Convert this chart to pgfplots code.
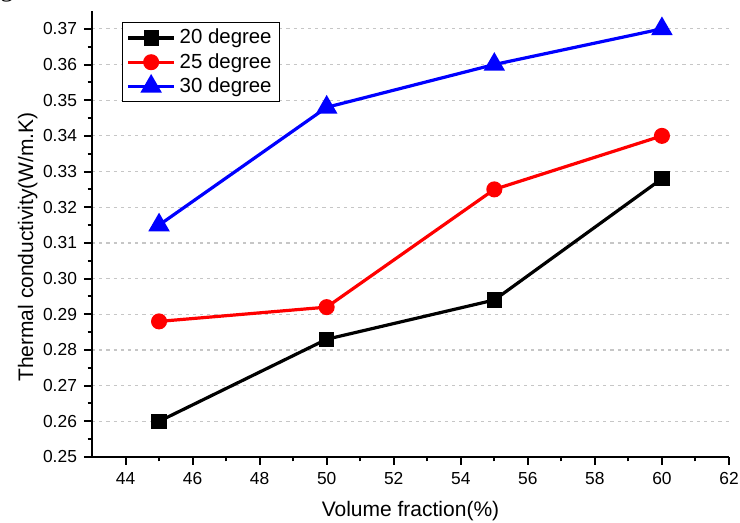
\documentclass[border=0pt]{standalone}
\usepackage{pgfplots}
\pgfplotsset{compat=1.18}
\usepackage{fontspec}
\setmainfont{Liberation Sans}
\newfontfamily\capfont{Liberation Serif}

\begin{document}
\begin{tikzpicture}
\begin{axis}[
    at={(0,0)}, anchor=south west,
    scale only axis,
    width=318.5pt, height=223pt,
    xmin=43, xmax=62,
    ymin=0.25, ymax=0.375,
    axis x line*=bottom,
    axis y line*=left,
    axis line style={line width=1.4pt},
    xtick={44,46,48,50,52,54,56,58,60,62},
    ytick={0.25,0.26,0.27,0.28,0.29,0.30,0.31,0.32,0.33,0.34,0.35,0.36,0.37},
    minor x tick num=1,
    minor y tick num=1,
    tick align=outside,
    major tick length=4pt,
    minor tick length=2.2pt,
    tick style={black, line width=1pt},
    ticklabel style={font=\fontsize{8.7}{10}\selectfont, /pgf/number format/assume math mode=true},
    y tick label style={/pgf/number format/.cd, fixed, fixed zerofill, precision=2},
    ymajorgrids,
    grid style={gray!45, line width=0.6pt, dash pattern=on 1.6pt off 2pt},
    xlabel={Volume fraction(\%)},
    ylabel={Thermal conductivity(W/m.K)},
    label style={font=\fontsize{10.5}{12}\selectfont},
    xlabel style={at={(axis description cs:0.5,-0.1345)}, anchor=base, inner sep=0pt},
    ylabel style={at={(axis description cs:-0.0926,0.471)}, anchor=base, inner sep=0pt},
    legend style={
        at={(0.047,0.975)}, anchor=north west,
        draw=black, line width=0.6pt,
        font=\fontsize{10.2}{12}\selectfont,
        inner xsep=2pt, inner ysep=1.2pt,
        row sep=-0.8pt,
        nodes={inner sep=2pt},
    },
    legend cell align=left,
    legend image code/.code={
        \draw[mark repeat=2, mark phase=2, #1]
            plot coordinates {(0pt,0pt) (11.5pt,0pt) (23pt,0pt)};
    },
    every axis plot/.append style={line width=1.6pt},
]

\addplot[color=black, mark=square*, mark size=3pt, mark options={solid}] coordinates {
    (45, 0.260)
    (50, 0.283)
    (55, 0.294)
    (60, 0.328)
};
\addlegendentry{20 degree}

\addplot[color=red, mark=*, mark size=3.2pt] coordinates {
    (45, 0.288)
    (50, 0.292)
    (55, 0.325)
    (60, 0.340)
};
\addlegendentry{25 degree}

\addplot[color=blue, mark=triangle*, mark size=4.6pt] coordinates {
    (45, 0.315)
    (50, 0.348)
    (55, 0.360)
    (60, 0.370)
};
\addlegendentry{30 degree}

\end{axis}

% cut-off caption letter at the top-left corner
\node[anchor=base west, inner sep=0pt, font=\capfont\fontsize{13}{14}\selectfont] at (-46pt,230pt) {g};

\pgfresetboundingbox
\useasboundingbox (-46pt,-33pt) rectangle (324pt,228.5pt);
\end{tikzpicture}
\end{document}
